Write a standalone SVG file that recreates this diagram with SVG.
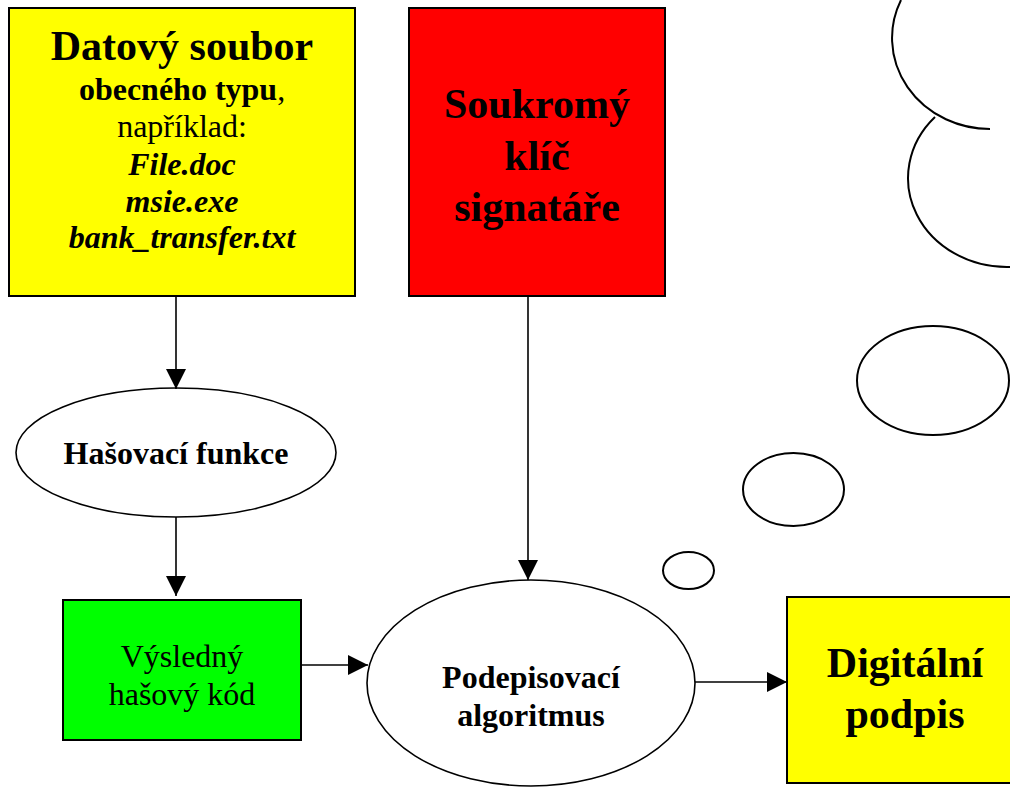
<svg xmlns="http://www.w3.org/2000/svg" width="1010" height="787" viewBox="0 0 1010 787">
<defs>
<style>
text{font-family:"Liberation Serif","Times New Roman",serif;fill:#000;text-anchor:middle}
.b{font-weight:bold}
.i{font-style:italic}
.box{stroke:#000;stroke-width:2}
.ell{fill:#fff;stroke:#000;stroke-width:1.6}
.cloud{fill:none;stroke:#000;stroke-width:2}
.conn line{stroke:#000;stroke-width:1.6}
</style>
<marker id="ah" markerUnits="userSpaceOnUse" markerWidth="20" markerHeight="20" refX="20" refY="10" orient="auto">
<path d="M0,0 L20,10 L0,20 z" fill="#000"/>
</marker>
</defs>
<rect width="1010" height="787" fill="#fff"/>
<g id="cloud">
<path class="cloud" d="M901,0 A98,91 0 0 0 990,129"/>
<path class="cloud" d="M935,117 A99,89 0 0 0 1010,267"/>
<ellipse class="cloud" cx="933" cy="380.5" rx="76" ry="54.5"/>
<ellipse class="cloud" cx="793.5" cy="489.5" rx="50.5" ry="36.5"/>
<ellipse class="cloud" cx="688.5" cy="570.5" rx="25.5" ry="18.5"/>
</g>
<g id="datovy-soubor">
<rect class="box" x="9" y="8" width="346" height="288" fill="#ffff00"/>
<text x="182" y="60" class="b" font-size="42">Datový soubor</text>
<text x="182" y="100" font-size="32"><tspan class="b">obecného typu</tspan>,</text>
<text x="182" y="137" font-size="32">například:</text>
<text x="182" y="175" class="b i" font-size="32">File.doc</text>
<text x="182" y="212" class="b i" font-size="32">msie.exe</text>
<text x="182" y="248" class="b i" font-size="32">bank_transfer.txt</text>
</g>
<g id="soukromy-klic">
<rect class="box" x="409" y="8" width="256" height="288" fill="#ff0000"/>
<text x="537" y="118" class="b" font-size="42">Soukromý</text>
<text x="537" y="170" class="b" font-size="42">klíč</text>
<text x="537" y="221" class="b" font-size="42">signatáře</text>
</g>
<g id="hasovaci-funkce">
<ellipse class="ell" cx="176" cy="452.5" rx="160" ry="64.5"/>
<text x="176" y="464" class="b" font-size="32">Hašovací funkce</text>
</g>
<g id="vysledny-kod">
<rect class="box" x="63" y="600" width="238" height="140" fill="#00ff00"/>
<text x="182" y="667" font-size="32">Výsledný</text>
<text x="182" y="705" font-size="32">hašový kód</text>
</g>
<g id="podepisovaci-algoritmus">
<ellipse class="ell" cx="531" cy="683" rx="164" ry="103"/>
<text x="531" y="688" class="b" font-size="32">Podepisovací</text>
<text x="531" y="726" class="b" font-size="32">algoritmus</text>
</g>
<g id="digitalni-podpis">
<rect class="box" x="787" y="597" width="236" height="186" fill="#ffff00"/>
<text x="905" y="677" class="b" font-size="42">Digitální</text>
<text x="905" y="728" class="b" font-size="42">podpis</text>
</g>
<g id="connectors" class="conn">
<line x1="176" y1="296" x2="176" y2="389" marker-end="url(#ah)"/>
<line x1="176" y1="517" x2="176" y2="596" marker-end="url(#ah)"/>
<line x1="528" y1="296" x2="528" y2="580" marker-end="url(#ah)"/>
<line x1="301" y1="665" x2="368" y2="665" marker-end="url(#ah)"/>
<line x1="695" y1="682" x2="787" y2="682" marker-end="url(#ah)"/>
</g>
</svg>
